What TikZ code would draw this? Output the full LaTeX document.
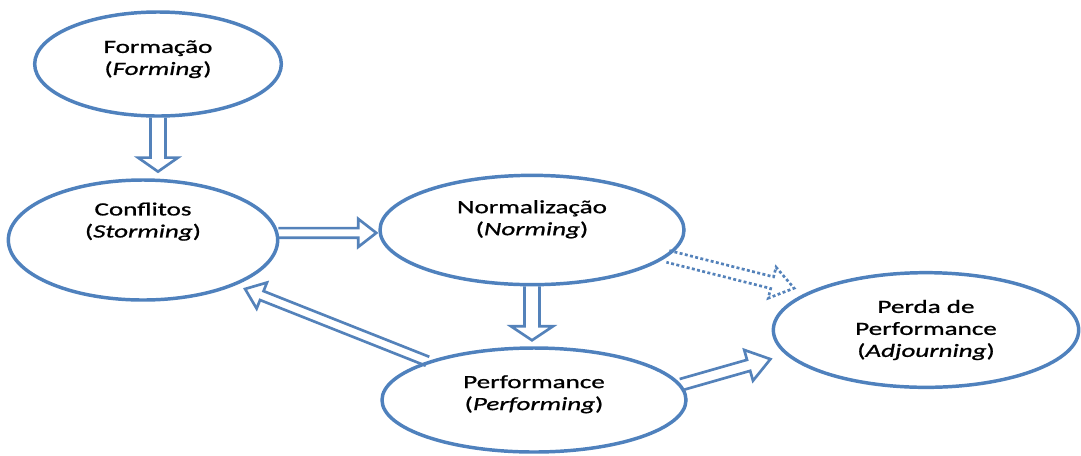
\documentclass[tikz,border=0pt]{standalone}
\usepackage{fontspec}
\setmainfont{Carlito}[FakeStretch=1.45,FakeBold=1]
\usetikzlibrary{calc,shapes.geometric}
\definecolor{phaseblue}{RGB}{79,129,189}
\definecolor{arrowblue}{RGB}{84,130,186}

\begin{document}
\begin{tikzpicture}[x=0.75pt,y=-0.75pt,
		phase/.style={ellipse,draw=phaseblue,line width=2.6pt,fill=white,inner sep=0pt,align=center,text=black,font=\fontsize{14}{16.5}\selectfont},
		% hollow block arrow: shaft half width, head half width, head length, gap before the target
		blockarrow/.style n args={4}{draw=arrowblue,line width=2pt,line join=miter,
			to path={let \p1=($(\tikztotarget)-(\tikztostart)$), \n1={atan2(\y1,\x1)} in
				($(\tikztostart)+(\n1+90:#1)$)
				-- ($(\tikztotarget)+(\n1+180:{#4+#3})+(\n1+90:#1)$)
				-- ($(\tikztotarget)+(\n1+180:{#4+#3})+(\n1+90:#2)$)
				-- ($(\tikztotarget)+(\n1+180:#4)$)
				-- ($(\tikztotarget)+(\n1+180:{#4+#3})+(\n1-90:#2)$)
				-- ($(\tikztotarget)+(\n1+180:{#4+#3})+(\n1-90:#1)$)
				-- ($(\tikztostart)+(\n1-90:#1)$)}}]
		\useasboundingbox (0,0) rectangle (1081,455);
		\node (F) at (158,64) [phase,minimum width=185pt,minimum height=78pt,text depth=9.5pt] {Formação\\(\textit{Forming})};
		\node (S) at (143,240) [phase,minimum width=202pt,minimum height=90pt,text depth=30pt] {Conflitos\\(\textit{Storming})};
		\node (N) at (532,230) [phase,minimum width=228pt,minimum height=82pt,text depth=18.5pt] {Normalização\\(\textit{Norming})};
		\node (P) at (534,400) [phase,minimum width=228pt,minimum height=78pt,text depth=11pt] {Performance\\(\textit{Performing})};
		\node (A) at (926,330) [phase,minimum width=229pt,minimum height=86pt] {Perda de\\Performance\\(\textit{Adjourning})};
		\draw[blockarrow={5.6pt}{15pt}{10.5pt}{5pt}] (F.south) to (F.south |- S.north);
		\draw[blockarrow={3.6pt}{10.5pt}{13.5pt}{1.5pt}] (S.3) to (S.3 -| N.west);
		\draw[blockarrow={5.6pt}{15.75pt}{10.5pt}{4.5pt}] (N.south) to (N.south |- P.north);
		\draw[blockarrow={3.6pt}{10.5pt}{13.5pt}{7.5pt}] (P.160) to (S.-26);
		\draw[blockarrow={4.3pt}{12pt}{17pt}{12pt}] (P.6) to (A.190);
		\draw[blockarrow={4.5pt}{12pt}{17pt}{11pt},dash pattern=on 2.2pt off 1.8pt] (N.-11) to (A.162);
	\end{tikzpicture}
\end{document}
